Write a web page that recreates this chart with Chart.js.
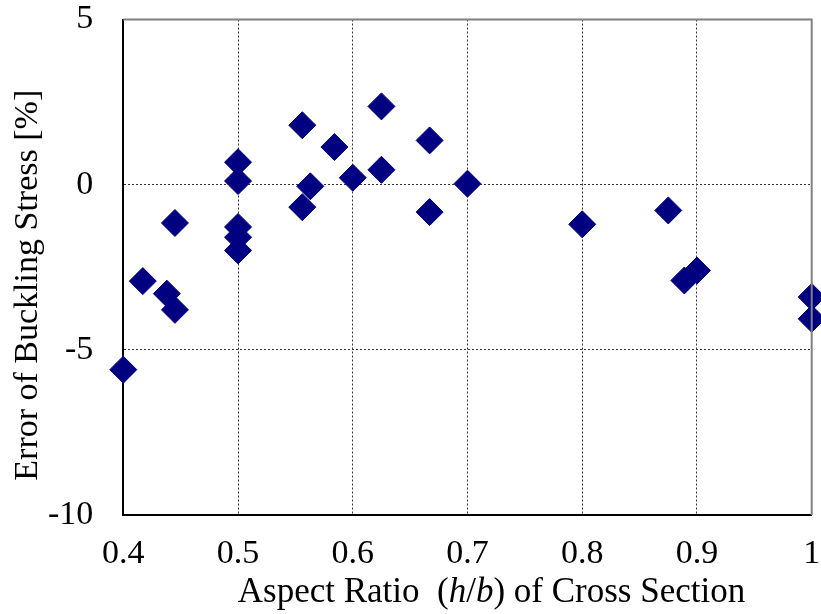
<!DOCTYPE html>
<html>
<head>
<meta charset="utf-8">
<script src="https://cdn.jsdelivr.net/npm/chart.js@4"></script>
<style>
    body { margin: 0; background: #fff; }
    #box { width: 821px; height: 614px; }
</style>
</head>
<body>
<div id="box"><canvas id="myChart" width="821" height="614"></canvas></div>
<script>
// values
const aspectRatio = [0.4, 0.417, 0.438, 0.445, 0.445, 0.5, 0.5, 0.5, 0.5, 0.5, 0.556, 0.556, 0.563,
    0.584, 0.6, 0.625, 0.625, 0.667, 0.667, 0.7, 0.8, 0.875, 0.889, 0.9, 1.0, 1.0];
const errorPct = [-5.6, -2.92, -3.3, -3.79, -1.16, 0.68, 0.11, -1.28, -1.59, -1.99, 1.8, -0.68, -0.05,
    1.14, 0.21, 2.37, 0.45, 1.34, -0.83, 0.03, -1.2, -0.78, -2.9, -2.6, -3.4, -4.06];
const xTicks = [0.4, 0.5, 0.6, 0.7, 0.8, 0.9, 1];
const yTicks = [5, 0, -5, -10];

const xTitleParts = [
    { text: "Aspect Ratio  (", italic: false },
    { text: "h", italic: true },
    { text: "/", italic: false },
    { text: "b", italic: true },
    { text: ") of Cross Section", italic: false }
];
const yTitle = "Error of Buckling Stress [%]";

const serif = '"Liberation Serif", "Times New Roman", serif';

const points = [];
for (let i = 0; i < aspectRatio.length; i++) {
    points.push({ x: aspectRatio[i], y: errorPct[i] });
}

// scales add tick padding to the chart margins, drop that
function noPad(s) {
    s.paddingTop = 0;
    s.paddingBottom = 0;
    s.paddingLeft = 0;
    s.paddingRight = 0;
}

// top/right frame and the axis titles (x title has italic h and b)
const framePlugin = {
    id: "frame",
    afterDraw(chart) {
        const ctx = chart.ctx;
        const a = chart.chartArea;
        ctx.save();
        ctx.strokeStyle = "#808080";
        ctx.lineWidth = 2;
        ctx.beginPath();
        ctx.moveTo(a.left, a.top);
        ctx.lineTo(a.right, a.top);
        ctx.lineTo(a.right, a.bottom);
        ctx.stroke();

        ctx.fillStyle = "#000";
        ctx.textBaseline = "alphabetic";
        ctx.textAlign = "left";
        let total = 0;
        xTitleParts.forEach(p => {
            ctx.font = (p.italic ? "italic " : "") + "35px " + serif;
            p.w = ctx.measureText(p.text).width;
            total += p.w;
        });
        let x = (a.left + a.right) / 2 + 24 - total / 2;
        xTitleParts.forEach(p => {
            ctx.font = (p.italic ? "italic " : "") + "35px " + serif;
            ctx.fillText(p.text, x, a.bottom + 87);
            x += p.w;
        });

        ctx.font = "34px " + serif;
        ctx.textAlign = "center";
        ctx.translate(37, (a.top + a.bottom) / 2 + 18);
        ctx.rotate(-Math.PI / 2);
        ctx.fillText(yTitle, 0, 0);
        ctx.restore();
    }
};

const config = {
    type: "scatter",
    data: {
        datasets: [{
            label: "Error",
            data: points,
            pointStyle: "rectRot",
            pointRadius: 13.5,
            pointHoverRadius: 13.5,
            borderWidth: 1,
            backgroundColor: "#000080",
            borderColor: "#000080",
            clip: false
        }]
    },
    options: {
        responsive: false,
        animation: false,
        layout: { autoPadding: false, padding: { top: 19.5, right: 9.3, left: 0, bottom: 0 } },
        plugins: {
            legend: { display: false },
            tooltip: { enabled: false }
        },
        scales: {
            x: {
                type: "linear",
                min: 0.4,
                max: 1.0,
                afterFit: (s) => { s.height = 99; noPad(s); },
                afterBuildTicks: (s) => { s.ticks = xTicks.map(v => ({ value: v })); },
                ticks: {
                    padding: 22,
                    color: "#000",
                    font: { family: serif, size: 34, lineHeight: 1 },
                    maxRotation: 0,
                    callback: (v) => String(Math.round(v * 10) / 10)
                },
                grid: { color: "#333", lineWidth: 1, drawTicks: false },
                border: { color: "#000", width: 2, dash: [2, 2] }
            },
            y: {
                type: "linear",
                min: -10,
                max: 5,
                afterFit: (s) => { s.width = 123.3; noPad(s); },
                afterBuildTicks: (s) => { s.ticks = yTicks.map(v => ({ value: v })); },
                ticks: {
                    padding: 30,
                    color: "#000",
                    font: { family: serif, size: 34, lineHeight: 1 }
                },
                grid: { color: "#333", lineWidth: 1, drawTicks: false },
                border: { color: "#000", width: 2, dash: [2, 2] }
            }
        }
    },
    plugins: [framePlugin]
};

var myChart = new Chart(
    document.getElementById("myChart"),
    config
);
</script>
</body>
</html>
